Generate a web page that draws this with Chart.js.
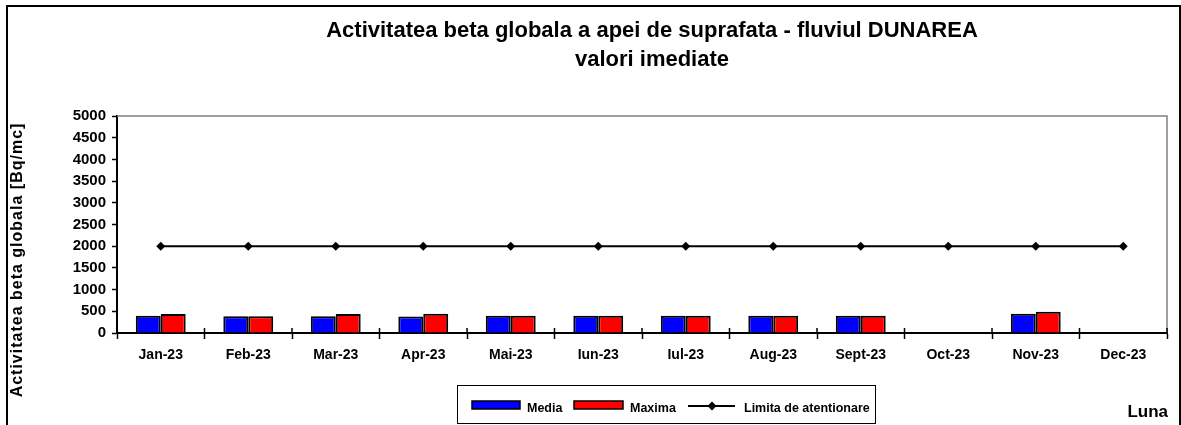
<!DOCTYPE html>
<html>
<head>
<meta charset="utf-8">
<script src="https://cdn.jsdelivr.net/npm/chart.js@4.4.1/dist/chart.umd.min.js"></script>
<style>
    body { margin: 0; background: #fff; }
    canvas { display: block; }
</style>
</head>
<body>
<canvas id="betaChart" width="1181" height="425"></canvas>
<script>
const luni = ["Jan-23", "Feb-23", "Mar-23", "Apr-23", "Mai-23", "Iun-23", "Iul-23", "Aug-23", "Sept-23", "Oct-23", "Nov-23", "Dec-23"];
const media = [400, 385, 385, 380, 400, 400, 400, 400, 400, null, 445, null];
const maxima = [440, 385, 440, 445, 400, 400, 400, 400, 400, null, 490, null];
const limita = [2000, 2000, 2000, 2000, 2000, 2000, 2000, 2000, 2000, 2000, 2000, 2000];

const titluRand1 = "Activitatea beta globala a apei de suprafata - fluviul DUNAREA";
const titluRand2 = "valori imediate";
const titluAxaY = "Activitatea beta globala [Bq/mc]";
const titluAxaX = "Luna";

const FONT = '"Liberation Sans", Arial, sans-serif';

// rama, titluri si legenda desenate peste grafic
const decor = {
    id: "decor",
    afterDraw(chart) {
        const ctx = chart.ctx;
        const ca = chart.chartArea;
        ctx.save();

        // rama exterioara
        ctx.strokeStyle = "#000";
        ctx.lineWidth = 2;
        ctx.strokeRect(7, 6, 1173, 440);

        // marginea de sus si din dreapta a zonei de desen
        ctx.strokeStyle = "#808080";
        ctx.lineWidth = 1.5;
        ctx.beginPath();
        ctx.moveTo(ca.left, ca.top);
        ctx.lineTo(ca.right, ca.top);
        ctx.lineTo(ca.right, ca.bottom);
        ctx.stroke();

        // liniutele axei X trec si deasupra axei
        const n = chart.data.labels.length;
        ctx.strokeStyle = "#000";
        ctx.lineWidth = 1.5;
        ctx.beginPath();
        for (let i = 1; i <= n; i++) {
            const x = ca.left + i * ca.width / n;
            ctx.moveTo(x, ca.bottom - 5);
            ctx.lineTo(x, ca.bottom);
        }
        ctx.stroke();

        // titlu
        ctx.fillStyle = "#000";
        ctx.textAlign = "center";
        ctx.textBaseline = "middle";
        ctx.font = "bold 22px " + FONT;
        const cx = (ca.left + ca.right) / 2 + 10;
        ctx.fillText(titluRand1, cx, 31);
        ctx.fillText(titluRand2, cx, 60);

        // titlu axa Y
        ctx.save();
        ctx.translate(18, 260);
        ctx.rotate(-Math.PI / 2);
        ctx.font = "bold 16px " + FONT;
        ctx.letterSpacing = "1px";
        ctx.fillText(titluAxaY, 0, 0);
        ctx.restore();

        // titlu axa X
        ctx.font = "bold 17px " + FONT;
        ctx.textAlign = "right";
        ctx.fillText(titluAxaX, 1168, 412);

        // legenda
        const ds = chart.data.datasets;
        ctx.strokeStyle = "#000";
        ctx.lineWidth = 1;
        ctx.strokeRect(457.5, 385.5, 418, 38);
        ctx.font = "bold 12.5px " + FONT;
        ctx.textAlign = "left";
        ctx.textBaseline = "middle";
        const ty = 409;

        ctx.lineWidth = 1.5;
        ctx.fillStyle = ds[0].backgroundColor;
        ctx.fillRect(472, 401, 48, 8);
        ctx.strokeRect(472, 401, 48, 8);
        ctx.fillStyle = "#000";
        ctx.fillText(ds[0].label, 527, ty);

        ctx.fillStyle = ds[1].backgroundColor;
        ctx.fillRect(574, 401, 49, 8);
        ctx.strokeRect(574, 401, 49, 8);
        ctx.fillStyle = "#000";
        ctx.fillText(ds[1].label, 630, ty);

        ctx.lineWidth = 2;
        ctx.beginPath();
        ctx.moveTo(688, 406);
        ctx.lineTo(735, 406);
        ctx.stroke();
        ctx.beginPath();
        ctx.moveTo(712, 401.5);
        ctx.lineTo(716.5, 406);
        ctx.lineTo(712, 410.5);
        ctx.lineTo(707.5, 406);
        ctx.closePath();
        ctx.fill();
        ctx.fillText(ds[2].label, 744, ty);

        ctx.restore();
    }
};

const ctx = document.getElementById("betaChart").getContext("2d");
window.betaChart = new Chart(ctx, {
    type: "bar",
    data: {
        labels: luni,
        datasets: [
            {
                label: "Media",
                data: media,
                backgroundColor: "#0000FF",
                borderColor: "#000",
                borderWidth: 2,
                categoryPercentage: 0.57,
                barPercentage: 1.0,
                order: 2
            },
            {
                label: "Maxima",
                data: maxima,
                backgroundColor: "#FF0000",
                borderColor: "#000",
                borderWidth: 2,
                categoryPercentage: 0.57,
                barPercentage: 1.0,
                order: 2
            },
            {
                type: "line",
                label: "Limita de atentionare",
                data: limita,
                borderColor: "#000",
                backgroundColor: "#000",
                borderWidth: 2,
                pointStyle: "rectRot",
                pointRadius: 4.5,
                pointBorderWidth: 0,
                fill: false,
                order: 1
            }
        ]
    },
    options: {
        responsive: false,
        animation: false,
        layout: { padding: { left: 0, right: 14, top: 116, bottom: 0 } },
        plugins: {
            legend: { display: false },
            title: { display: false },
            tooltip: { enabled: false }
        },
        scales: {
            x: {
                afterFit: s => { s.height = 92; },
                grid: { display: true, drawOnChartArea: false, offset: true, tickLength: 6, color: "#000", tickWidth: 1.5 },
                border: { color: "#000", width: 2 },
                ticks: { color: "#000", font: { family: FONT, size: 14, weight: "bold" }, padding: 8, maxRotation: 0, autoSkip: false }
            },
            y: {
                min: 0,
                max: 5000,
                afterFit: s => { s.width = 117; },
                grid: { display: true, drawOnChartArea: false, tickLength: 5, color: "#000", tickWidth: 1.5 },
                border: { color: "#000", width: 2 },
                ticks: {
                    stepSize: 500,
                    autoSkip: false,
                    color: "#000",
                    font: { family: FONT, size: 15, weight: "bold" },
                    padding: 6,
                    callback: v => String(v)
                }
            }
        }
    },
    plugins: [decor]
});
</script>
</body>
</html>
